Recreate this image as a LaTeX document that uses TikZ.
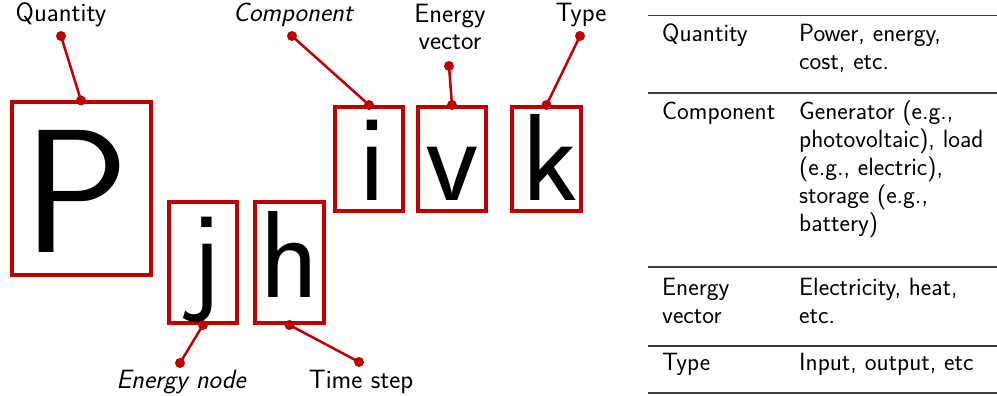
\documentclass[tikz,border=0pt]{standalone}
\usepackage{fontspec}
\definecolor{myred}{RGB}{192,0,0}
\definecolor{rulegray}{RGB}{60,60,60}
\begin{document}
\begin{tikzpicture}[x=1pt,y=-1pt,
  box/.style={draw=myred,line width=4pt,inner sep=0pt},
  bigP/.style={inner sep=0pt,font=\sffamily\fontsize{176}{176}\selectfont},
  bigl/.style={inner sep=0pt,font=\sffamily\fontsize{124}{124}\selectfont},
  lbl/.style={inner sep=0pt,anchor=base,align=center,font=\sffamily\fontsize{26.5}{28}\selectfont},
  cell/.style={inner sep=0pt,anchor=base west,align=left,font=\sffamily\fontsize{25}{28}\selectfont},
  conn/.style={draw=myred,line width=2.5pt},
  rowrule/.style={draw=rulegray,line width=1.5pt}]
\useasboundingbox (0,0) rectangle (997,396);
% boxes
\node[box,minimum width=139pt,minimum height=172pt] (Pbox) at (81,188.5) {};
\node[box,minimum width=68pt,minimum height=121pt] (jbox) at (203,262.5) {};
\node[box,minimum width=69pt,minimum height=121pt] (hbox) at (289.5,262.5) {};
\node[box,minimum width=68pt,minimum height=104pt] (ibox) at (369,159) {};
\node[box,minimum width=68pt,minimum height=104pt] (vbox) at (452,159) {};
\node[box,minimum width=69pt,minimum height=104pt] (kbox) at (546.5,159) {};
% letters
\node[bigP,anchor=base] (Pl) at (76,252) {P};
\node[bigl,anchor=base] (jl) at (206,297) {j};
\node[bigl,anchor=base] (hl) at (289.5,297) {h};
\node[bigl,anchor=base] (il) at (372,200) {i};
\node[bigl,anchor=base] (vl) at (452,200) {v};
\node[bigl,anchor=base] (kl) at (550,200) {k};
% labels (base anchor = last line)
\node[lbl] (qlab) at (61,22) {Quantity};
\node[lbl] (clab) at (293,22) {\itshape Component};
\node[lbl] (evlab) at (450,50) {Energy\\vector};
\node[lbl] (tlab) at (581,22) {Type};
\node[lbl] (enlab) at (181,388) {\itshape Energy node};
\node[lbl] (tslab) at (361,388) {Time step};
% dot coordinates
\coordinate (qdot) at (61,36);
\coordinate (cdot) at (292,36);
\coordinate (evdot) at (449,66);
\coordinate (tdot) at (580,36);
\coordinate (endot) at (180,363);
\coordinate (tsdot) at (359,362);
% connectors
\draw[conn] (qdot) -- (Pbox.north);
\draw[conn] (cdot) -- (ibox.north);
\draw[conn] (evdot) -- (vbox.north);
\draw[conn] (tdot) -- (kbox.north);
\draw[conn] (endot) -- (jbox.south);
\draw[conn] (tsdot) -- (hbox.south);
\foreach \p in {qdot,cdot,evdot,tdot,endot,tsdot,Pbox.north,ibox.north,vbox.north,kbox.north,jbox.south,hbox.south}
  \fill[myred] (\p) circle (5pt);
% table
\draw[rowrule] (648,15.5) -- (997,15.5);
\draw[rowrule] (648,93) -- (997,93);
\draw[rowrule] (648,267) -- (997,267);
\draw[rowrule] (648,346) -- (997,346);
\draw[rowrule] (648,393) -- (997,393);
\node[cell] (c11) at (662,42) {Quantity};
\node[cell] (c12) at (799,70) {Power, energy,\\cost, etc.};
\node[cell] (c21) at (662,119) {Component};
\node[cell] (c22) at (799,231) {Generator (e.g.,\\photovoltaic), load\\(e.g., electric),\\storage (e.g.,\\battery)};
\node[cell] (c31) at (662,323) {Energy\\vector};
\node[cell] (c32) at (799,323) {Electricity, heat,\\etc.};
\node[cell] (c41) at (662,370) {Type};
\node[cell] (c42) at (799,370) {Input, output, etc};
\end{tikzpicture}
\end{document}
